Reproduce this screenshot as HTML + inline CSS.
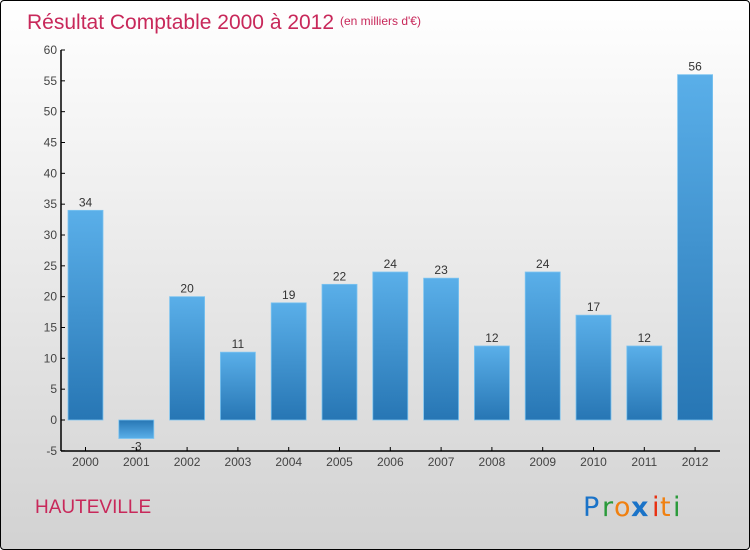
<!DOCTYPE html>
<html><head><meta charset="utf-8"><style>
html,body{margin:0;padding:0;}
body{width:750px;height:550px;overflow:hidden;font-family:"Liberation Sans",sans-serif;}
#frame{position:absolute;left:0;top:0;width:748px;height:548px;border:1px solid #000;border-radius:4px;background:linear-gradient(#ffffff,#d2d2d2);}
</style></head><body>
<div id="frame"></div>
<svg id="chart" width="750" height="550" style="position:absolute;left:0;top:0">
<defs>
<linearGradient id="gpos" x1="0" y1="0" x2="0" y2="1"><stop offset="0" stop-color="#5aafe9"/><stop offset="1" stop-color="#2776b4"/></linearGradient>
<linearGradient id="gneg" x1="0" y1="0" x2="0" y2="1"><stop offset="0" stop-color="#2776b4"/><stop offset="1" stop-color="#5aafe9"/></linearGradient>
</defs>
<text x="27" y="29" font-size="21" fill="#c8285a">Résultat Comptable 2000 à 2012</text>
<text x="340" y="25" font-size="12" fill="#c8285a">(en milliers d'€)</text>
<text x="35" y="513" font-size="19" fill="#c8285a">HAUTEVILLE</text>
<g font-size="27" font-family="DejaVu Sans, sans-serif">
<text x="583" y="516" fill="#1a73c8">P</text><text x="602" y="516" fill="#2a9a3a">r</text><text x="614" y="516" fill="#f08010">o</text><text x="631" y="516" fill="#1a73c8" font-weight="bold">x</text><text x="652" y="516" fill="#e83010">i</text><text x="660" y="516" fill="#f08010">t</text><text x="673" y="516" fill="#2a9a3a">i</text>
</g>
<g id="plot"></g>
</svg>
<script>
const categories=["2000","2001","2002","2003","2004","2005","2006","2007","2008","2009","2010","2011","2012"];
const values=[34,-3,20,11,19,22,24,23,12,24,17,12,56];
const yTicks=[-5,0,5,10,15,20,25,30,35,40,45,50,55,60];
const ns="http://www.w3.org/2000/svg";
const g=document.getElementById('plot');
const y=v=>420-v*370/60;
const x=i=>85.5+i*50.8;
function el(t,a){const e=document.createElementNS(ns,t);for(const k in a)e.setAttribute(k,a[k]);g.appendChild(e);return e;}
const ax=el('line',{x1:61,y1:50,x2:61,y2:451,stroke:'#000','stroke-width':1.5});


const bx=el('line',{x1:61,y1:451,x2:720,y2:451,stroke:'#000','stroke-width':1.5});


yTicks.forEach(v=>{
 el('line',{x1:61,y1:y(v),x2:65,y2:y(v),stroke:'#000'});
 const t=el('text',{x:57,y:y(v)+4,'font-size':12,fill:'#444','text-anchor':'end'});
 t.textContent=v;
 
 
});
categories.forEach((c,i)=>{
 const v=values[i];
 const top=Math.min(y(v),y(0)),h=Math.abs(y(v)-y(0));
 const r=el('rect',{x:x(i)-17.5,y:top,width:35,height:h,fill:v<0?'url(#gneg)':'url(#gpos)',stroke:'#7cc4f0','stroke-width':0.8});
 
 
 const vl=el('text',{x:x(i),y:v<0?y(v)+12:y(v)-4,'font-size':12,fill:'#333','text-anchor':'middle'});
 vl.textContent=v;
 
 
 el('line',{x1:x(i),y1:447,x2:x(i),y2:451,stroke:'#000'});
 const tl=el('text',{x:x(i),y:466,'font-size':12,fill:'#444','text-anchor':'middle'});
 tl.textContent=c;
 
 
});
</script>
</body></html>
